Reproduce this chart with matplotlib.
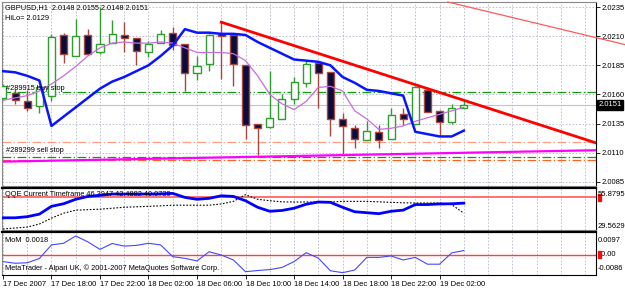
import numpy as np
import matplotlib.pyplot as plt
from matplotlib.transforms import blended_transform_factory as blend

plt.rcParams['font.family'] = ['Liberation Sans', 'DejaVu Sans']
plt.rcParams['font.size'] = 5.3

W, H = 625, 288

# GBPUSD H1 bars, 17 Dec 2007 14:00 .. 19 Dec 2007 04:00
opens = [2.0157, 2.0161, 2.0154, 2.0150, 2.0159, 2.0211, 2.0193, 2.0211, 2.0196, 2.0204,
         2.0211, 2.0208, 2.0196, 2.0204, 2.0213, 2.0203, 2.0178, 2.0186, 2.0212, 2.0211,
         2.0185, 2.0135, 2.0132, 2.0139, 2.0156, 2.0170, 2.0187, 2.0179, 2.0139, 2.0131,
         2.0121, 2.0128, 2.0122, 2.0143, 2.0135, 2.0164, 2.0146, 2.0136, 2.0148]
highs = [2.0169, 2.0165, 2.0164, 2.0167, 2.0212, 2.0213, 2.0225, 2.0216, 2.0235, 2.0224,
         2.0222, 2.0208, 2.0206, 2.0215, 2.0218, 2.0203, 2.0193, 2.0212, 2.0222, 2.0211,
         2.0185, 2.0135, 2.0180, 2.0160, 2.0175, 2.0189, 2.0189, 2.0179, 2.0144, 2.0134,
         2.0137, 2.0134, 2.0148, 2.0148, 2.0167, 2.0166, 2.0147, 2.0152, 2.0155]
lows = [2.0155, 2.0152, 2.0146, 2.0144, 2.0154, 2.0187, 2.0193, 2.0194, 2.0195, 2.0204,
        2.0196, 2.0185, 2.0192, 2.0204, 2.0198, 2.0163, 2.0172, 2.0180, 2.0173, 2.0167,
        2.0122, 2.0108, 2.0131, 2.0139, 2.0152, 2.0166, 2.0148, 2.0124, 2.0109, 2.0114,
        2.0121, 2.0114, 2.0122, 2.0134, 2.0135, 2.0145, 2.0124, 2.0135, 2.0148]
closes = [2.0167, 2.0155, 2.0148, 2.0166, 2.0209, 2.0195, 2.0210, 2.0195, 2.0203, 2.0212,
          2.0208, 2.0197, 2.0203, 2.0212, 2.0202, 2.0178, 2.0184, 2.0211, 2.0210, 2.0186,
          2.0134, 2.0131, 2.0140, 2.0156, 2.0171, 2.0186, 2.0178, 2.0139, 2.0133, 2.0122,
          2.0129, 2.0121, 2.0142, 2.0139, 2.0166, 2.0145, 2.0136, 2.0148, 2.0151]

hilo = [2.0180, 2.0179, 2.0176, 2.0172, 2.0133, 2.0141, 2.0149, 2.0157, 2.0165, 2.0171,
        2.0175, 2.0180, 2.0185, 2.0193, 2.0202, 2.0216, 2.0213, 2.0213, 2.0212, 2.0212,
        2.0211, 2.0205, 2.0200, 2.0195, 2.0190, 2.0189, 2.0188, 2.0185, 2.0175, 2.0170,
        2.0164, 2.0163, 2.0161, 2.0159, 2.0128, 2.0126, 2.0124, 2.0124, 2.0129]
ma = [2.0155, 2.0157, 2.0159, 2.0163, 2.0169, 2.0176, 2.0184, 2.0193, 2.0200, 2.0204,
      2.0205, 2.0204, 2.0204, 2.0205, 2.0204, 2.0200, 2.0196, 2.0196, 2.0196, 2.0195,
      2.0189, 2.0176, 2.0160, 2.0152, 2.0147, 2.0154, 2.0166, 2.0167, 2.0163, 2.0146,
      2.0139, 2.0130, 2.0131, 2.0133, 2.0137, 2.0140, 2.0143, 2.0146, 2.0149]

tick_bars = [0, 4, 8, 12, 16, 20, 24, 28, 32, 36]
tick_labels = ['17 Dec 2007', '17 Dec 18:00', '17 Dec 22:00', '18 Dec 02:00', '18 Dec 06:00',
               '18 Dec 10:00', '18 Dec 14:00', '18 Dec 18:00', '18 Dec 22:00', '19 Dec 02:00']
price_ticks = [2.0235, 2.0210, 2.0185, 2.0160, 2.0135, 2.0110, 2.0085]
price_range = (2.00815, 2.02393)
bars_range = (-0.08, 48.9)

red_trend = [(18, 2.0222), (38, 2.0155)]
thin_trend = [(40, 2.0231), (48, 2.0211)]
support = [(0, 2.01024), (38, 2.0110)]
buy_stop = 2.0162
sell_stop = 2.0106
stop_levels = [2.0119, 2.0104]
bid = 2.0151

qqe_fast = [37.2, 37.2, 37.9, 39.5, 44.4, 46.0, 48.8, 50.6, 51.3, 52.1,
            52.1, 52.1, 52.1, 52.2, 52.5, 50.0, 48.8, 49.4, 51.0, 50.6,
            47.9, 43.8, 41.3, 41.8, 43.2, 45.7, 47.1, 46.9, 43.8, 41.0,
            40.4, 39.8, 41.3, 42.0, 45.5, 45.5, 45.9, 46.0, 46.39]
qqe_slow = [30.2, 30.8, 31.4, 33.3, 37.0, 40.1, 42.0, 42.3, 42.6, 43.2,
            43.8, 44.1, 44.4, 44.7, 45.1, 45.1, 45.1, 45.1, 45.9, 47.5,
            51.7, 48.8, 47.9, 47.2, 47.1, 47.1, 47.1, 47.1, 47.5, 47.5,
            47.5, 47.2, 46.9, 46.6, 46.5, 46.5, 46.5, 45.5, 40.07]
qqe_level = 50
qqe_range = (29.5629, 55.8795)

mom = [-0.0029, -0.0036, -0.0034, -0.0016, 0.0042, 0.0049, 0.0080, 0.0055, 0.0023, 0.0048,
       0.0037, 0.0040, 0.0049, 0.0042, -0.0008, -0.0015, -0.0026, 0.0013, -0.0001, -0.0022,
       -0.0072, -0.0067, -0.0063, -0.0054, -0.0029, 0.0009, -0.0014, -0.0068, -0.0076, -0.0065,
       -0.0011, -0.0011, -0.0005, -0.0022, -0.0011, -0.0040, -0.0040, 0.0008, 0.0018]
mom_range = (-0.0086, 0.0097)

green = '#2f9e2f'
brown = '#a8473f'
gridc = '#b4b8c8'


def box(top, bottom):
    return [2 / W, 1 - bottom / H, 594 / W, (bottom - top) / H]


fig = plt.figure(figsize=(W / 100, H / 100), dpi=100)
ax = fig.add_axes(box(2, 186))
axq = fig.add_axes(box(188, 230), sharex=ax)
axm = fig.add_axes(box(232, 275), sharex=ax)

x = np.arange(len(opens))
o, h, l, c = map(np.array, (opens, highs, lows, closes))
up = c >= o
lo = np.minimum(o, c)
bh = np.maximum(np.abs(c - o), 0.00006)

for a in (ax, axq, axm):
    a.set_xlim(*bars_range)
    for g in range(0, 50, 2):
        a.axvline(g, color=gridc, lw=0.6, ls=(0, (2, 2)), zorder=0)
    for s in a.spines.values():
        s.set_color('#888888')
        s.set_linewidth(0.8)
    a.spines['right'].set_color('black')

# main price panel
ax.set_ylim(*price_range)
for p in price_ticks:
    ax.axhline(p, color=gridc, lw=0.6, ls=(0, (2, 2)), zorder=0)
ax.axhline(bid, color='#c4c4c4', lw=0.8, zorder=1)

ax.axhline(buy_stop, color='#119911', lw=0.9, ls=(0, (7, 2, 1, 2)), zorder=1)
ax.axhline(sell_stop, color='#119911', lw=0.9, ls=(0, (7, 2, 1, 2)), zorder=1)
ax.axhline(stop_levels[0], color='#ff9c80', lw=0.9, ls=(0, (7, 2, 1, 2)), zorder=1)
ax.axhline(stop_levels[1], color='#ff6420', lw=0.9, ls=(0, (7, 2, 1, 2)), zorder=1)
ax.axline(support[0], support[1], color='#ff00ff', lw=1.6, zorder=2)

ax.vlines(x[up], l[up], h[up], color=green, lw=1, zorder=3)
ax.vlines(x[~up], l[~up], h[~up], color=brown, lw=1, zorder=3)
ax.bar(x[up], bh[up], bottom=lo[up], width=0.58, facecolor='white', edgecolor=green, lw=1, zorder=4)
ax.bar(x[~up], bh[~up], bottom=lo[~up], width=0.58, facecolor='#0b0b3c', edgecolor=brown, lw=1, zorder=4)

ax.plot(x, ma, color='#c46ee0', lw=0.9, zorder=5)
ax.plot(x, hilo, color='#0a14ff', lw=1.8, zorder=6)

(x1, y1), (x2, y2) = red_trend
k = (y2 - y1) / (x2 - x1)
ax.plot([x1, bars_range[1]], [y1, y1 + k * (bars_range[1] - x1)], color='#ff0000', lw=2, zorder=6)

(x1, y1), (x2, y2) = thin_trend
k = (y2 - y1) / (x2 - x1)
xs = x1 + (price_range[1] - y1) / k
xe = 51.3
ax.plot([xs, xe], [price_range[1], y1 + k * (xe - x1)], color='#ff5a5a', lw=0.9, zorder=6, clip_on=False)

ax.yaxis.tick_right()
ax.set_yticks(price_ticks)
ax.set_yticklabels(['%.4f' % p for p in price_ticks])
ax.tick_params(axis='y', length=3, pad=1, labelsize=5.5, width=0.6)
ax.tick_params(axis='x', bottom=False, labelbottom=False)

tr = blend(ax.transAxes, ax.transData)
ax.text(0.006, buy_stop + 0.00003, '#289915 buy stop', transform=tr, va='bottom', zorder=7)
ax.text(0.006, sell_stop + 0.00029, '#289299 sell stop', transform=tr, va='bottom', zorder=7)
ax.text(1.004, bid, '2.0151', transform=tr, va='center', ha='left', color='white', fontsize=5.5,
        bbox=dict(facecolor='black', edgecolor='black', pad=0.9), clip_on=False)

fig.text(5 / W, 1 - 8 / H, 'GBPUSD,H1  2.0148 2.0155 2.0148 2.0151', va='center')
fig.text(5 / W, 1 - 18 / H, 'HiLo= 2.0129', va='center')

# QQE panel
axq.set_ylim(*qqe_range)
axq.axhline(qqe_level, color='#ff4c4c', lw=1.1, zorder=1)
axq.plot(x, qqe_slow, color='black', lw=0.8, ls=(0, (1.5, 1.5)), zorder=2)
axq.plot(x, qqe_fast, color='#0000ff', lw=2, zorder=3)
axq.set_yticks([])
axq.tick_params(axis='x', bottom=False, labelbottom=False)
axq.spines['top'].set_color('black')
axq.spines['top'].set_linewidth(1.6)
fig.text(5 / W, 1 - 195 / H, 'QQE Current Timeframe 46.3947 42.4882 40.0739', va='center')
fig.text(598 / W, 1 - 195 / H, '55.8795', va='center', fontsize=5.5)
fig.text(598 / W, 1 - 227 / H, '29.5629', va='center', fontsize=5.5)
trq = blend(axq.transAxes, axq.transData)
axq.text(1.004, qqe_level, ' ', transform=trq, va='center', fontsize=4,
         bbox=dict(facecolor='#ee1111', edgecolor='#ee1111', pad=0.6), clip_on=False)

# Momentum panel
axm.set_ylim(*mom_range)
axm.axhline(0, color='#ff4040', lw=1, zorder=1)
axm.plot(x, mom, color='#4646ff', lw=0.8, zorder=2)
axm.set_yticks([])
axm.spines['top'].set_color('black')
axm.spines['top'].set_linewidth(1.6)
axm.spines['bottom'].set_color('black')
axm.set_xticks(tick_bars)
axm.set_xticklabels(tick_labels)
for t in axm.get_xticklabels():
    t.set_ha('left')
axm.tick_params(axis='x', length=3, pad=1.5, width=0.6, labelsize=5.5)
fig.text(5 / W, 1 - 240 / H, 'MoM  0.0018', va='center')
fig.text(5 / W, 1 - 268 / H, 'MetaTrader - Alpari UK, \u00a9 2001-2007 MetaQuotes Software Corp.', va='center')
fig.text(598 / W, 1 - 240 / H, '0.0097', va='center', fontsize=5.5)
fig.text(598 / W, 1 - 269 / H, '-0.0086', va='center', fontsize=5.5)
trm = blend(axm.transAxes, axm.transData)
axm.text(1.004, 0, '\u2009\u20090.00', transform=trm, va='center', fontsize=5.5, clip_on=False)
axm.text(1.004, 0, ' ', transform=trm, va='center', fontsize=4,
         bbox=dict(facecolor='#ee1111', edgecolor='#ee1111', pad=0.6), clip_on=False)

fig.savefig('out.png', dpi=100, facecolor='white')
